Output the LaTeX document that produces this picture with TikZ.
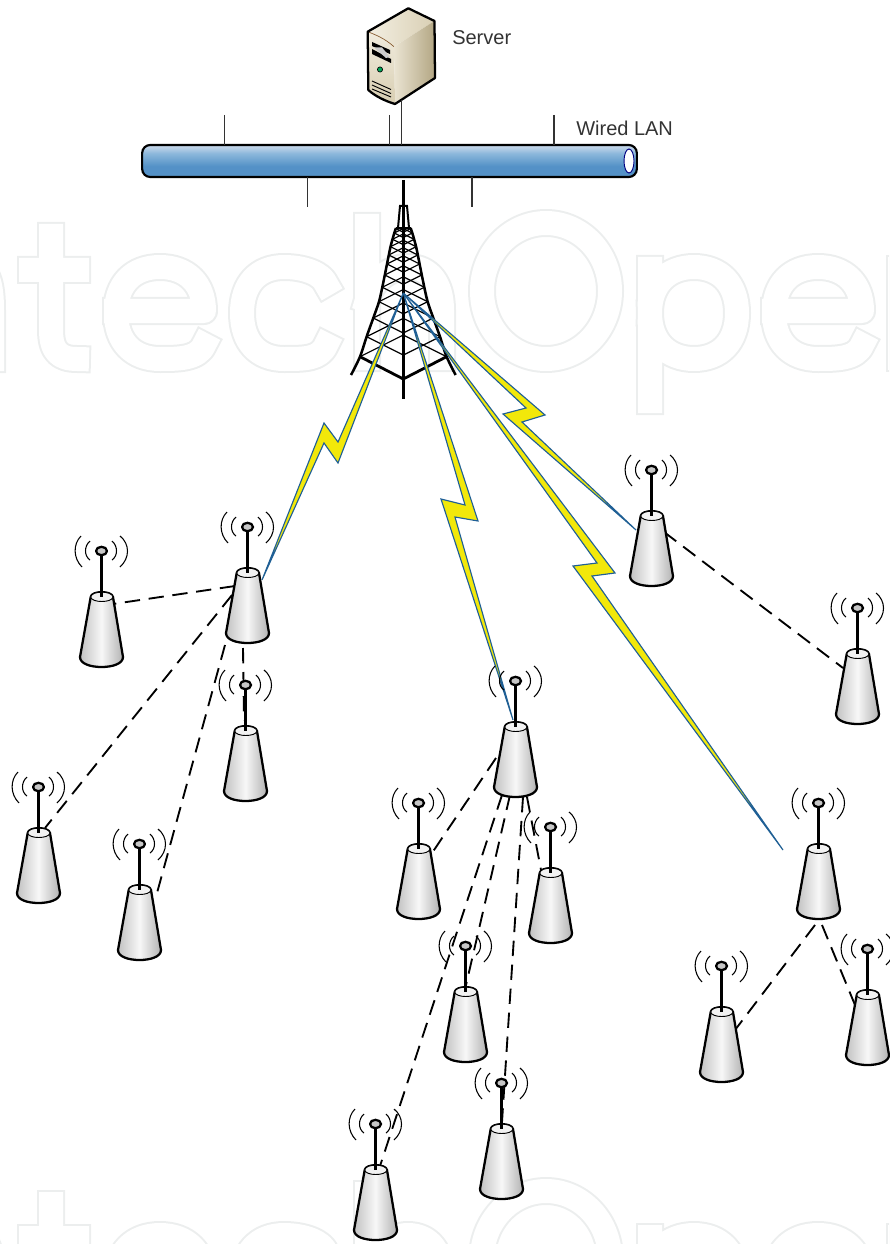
\documentclass[tikz,border=0pt]{standalone}
\usepackage{fontspec}
\setmainfont{Liberation Sans}
\usetikzlibrary{calc}
\definecolor{wm}{HTML}{ECEEEE}
\definecolor{boltblue}{HTML}{1F5F96}
\definecolor{boltyellow}{HTML}{F2E80A}
\definecolor{labelgray}{HTML}{333333}
\definecolor{ticks}{HTML}{333333}
\definecolor{srvtopl}{HTML}{F3EFE2}
\definecolor{srvtopr}{HTML}{D9CFB4}
\definecolor{srvsidel}{HTML}{EAE4D2}
\definecolor{srvsider}{HTML}{B3A683}
\definecolor{srvfrontt}{HTML}{F1ECDE}
\definecolor{srvfrontb}{HTML}{D8CEB2}
\pgfdeclareverticalshading{pipeshade}{100bp}{
  rgb(0bp)=(0.45,0.66,0.85);
  rgb(30bp)=(0.33,0.57,0.78);
  rgb(42bp)=(0.33,0.57,0.78);
  rgb(62bp)=(0.55,0.72,0.86);
  rgb(72bp)=(0.75,0.83,0.91);
  rgb(100bp)=(0.70,0.80,0.89)}
\tikzset{
  watermark/.style={draw=wm,line width=1.5pt,double=white,double distance=18pt,line cap=rect,line join=round},
  lanbar/.style={draw=black,line width=1.6pt,rounded corners=6pt,minimum width=371pt,minimum height=24pt,inner sep=0pt,outer sep=0pt,shading=pipeshade},
  tickline/.style={draw=ticks,line width=0.9pt},
  label/.style={text=labelgray,font=\fontsize{15}{18}\selectfont,inner sep=0pt},
  dashlink/.style={draw=black,line width=1.4pt,dash pattern=on 11.5pt off 6.5pt},
  bolt/.style={draw=boltblue,fill=boltyellow,line width=0.85pt,line join=miter},
  leg/.style={draw=black,line width=1.9pt,line cap=butt},
  lattice/.style={draw=black,line width=0.9pt},
  outline/.style={draw=black,line width=1.7pt,line join=round},
  pics/station/.style={code={
    \coordinate (-c) at (0,0);
    \draw[line width=0.8pt] (-11,-10) .. controls (-17,-5) and (-17,5) .. (-11,9);
    \draw[line width=0.8pt] (-20,-15) .. controls (-28,-7) and (-28,7) .. (-19,16);
    \draw[line width=0.8pt] (11,-10) .. controls (17,-5) and (17,5) .. (11,9);
    \draw[line width=0.8pt] (19,-15) .. controls (29,-7) and (29,7) .. (19,16);
    \draw[outline,left color=black!24,right color=black!30,middle color=black!3]
      (-10.3,46) -- (-21,106) .. controls (-21,113) and (-10,116) .. (0.5,116)
      .. controls (11,116) and (22,113) .. (22,106) -- (12,46)
      .. controls (11,39.5) and (-9.5,39.5) .. (-10.3,46) -- cycle;
    \draw[draw=black,line width=0.7pt,fill=black!5] (-10.3,46) .. controls (-9.5,52) and (11,52) .. (12,46) .. controls (11,39.5) and (-9.5,39.5) .. (-10.3,46) -- cycle;
    \draw[black,line width=1.7pt] (0.5,-2) -- (0.5,46);
    \draw[outline,fill=black!22] (0.5,0) ellipse [x radius=5.5,y radius=4.2];
  }}
}
\begin{document}
\begin{tikzpicture}[x=0.75pt,y=-0.75pt]
\useasboundingbox (0,0) rectangle (889,1244);
% watermark
\begin{scope}
\clip (0,0) rectangle (889,1244);
\foreach \s in {0,968}{
 \begin{scope}[shift={(0,\s)}]
  \draw[watermark] (-30,266) .. controls (-12,266) and (-8,284) .. (-8,310) -- (-8,359);
  \draw[watermark] (51,236) -- (51,330) .. controls (51,352) and (60,359) .. (77,359) (31,270) -- (77,270);
  \draw[watermark] (116,311) -- (204,311) .. controls (204,284) and (187,267) .. (160,267)
     .. controls (133,267) and (116,284) .. (116,313) .. controls (116,342) and (133,359) .. (160,359)
     .. controls (178,359) and (198,359) .. (204,345);
  \draw[watermark] (326,284) .. controls (322,274) and (305,267) .. (284,267)
     .. controls (258,267) and (242,284) .. (242,313) .. controls (242,342) and (258,359) .. (284,359)
     .. controls (305,359) and (320,359) .. (326,345);
  \draw[watermark] (367,226) -- (367,358) (367,300) .. controls (372,280) and (390,267) .. (408,267)
     .. controls (430,267) and (442,284) .. (442,310) -- (442,358);
  \draw[watermark] (546,291) ellipse [x radius=64,y radius=68];
  \draw[watermark] (650,269) -- (650,401) (650,313) .. controls (650,284) and (668,267) .. (694,267)
     .. controls (720,267) and (737,284) .. (737,313) .. controls (737,342) and (720,359) .. (694,359)
     .. controls (668,359) and (650,342) .. (650,313);
  \draw[watermark] (774,311) -- (862,311) .. controls (862,284) and (845,267) .. (818,267)
     .. controls (791,267) and (774,284) .. (774,313) .. controls (774,342) and (791,359) .. (818,359)
     .. controls (836,359) and (856,359) .. (862,345);
  \draw[watermark] (900,269) -- (900,358);
 \end{scope}
}
\end{scope}
% server
\coordinate (srvbase) at (401.4,100);
\shade[left color=srvtopl,right color=srvtopr] (367.7,31.7) -- (408.3,8.3) -- (434.5,21) -- (394,46.7) .. controls (384,38) and (376,35) .. (367.7,31.7) -- cycle;
\shade[left color=srvsidel,right color=srvsider] (394,46.7) -- (434.5,21) -- (435,78) -- (395,103) -- cycle;
\shade[top color=srvfrontt,bottom color=srvfrontb] (367.7,31.7) .. controls (376,35) and (384,38) .. (394,46.7) -- (395,103) .. controls (385,100) and (375,96) .. (369,90) -- cycle;
\draw[draw=brown!70!black,line width=0.5pt] (367.7,31.7) .. controls (376,35) and (384,38) .. (394,46.7);
\draw[outline] (408.3,8.3) -- (434.5,21) -- (435,78) -- (395,104) .. controls (385,101) and (375,96) .. (368.3,90) -- (367.7,31.7) -- cycle;
\fill[black] (372,42) -- (390,50) -- (390,54) -- (372,46) -- cycle;
\fill[black] (372,49) -- (391,59) -- (391,63) -- (372,54) -- cycle;
\fill[black!20] (374,47.5) -- (382,47.5) -- (390,57) -- (386,58) -- cycle;
\draw[draw=black,line width=0.5pt,fill=teal!70!green] (380,69.5) circle (2.6);
\draw[black,line width=0.7pt] (372,81) -- (391,89.5) (372,85) -- (391,93.5) (372,89) -- (391,97);
% LAN
\node[lanbar] (lan) at (389.5,161) {};
\draw[draw=blue!50!black,line width=0.7pt,fill=white] (629,161) ellipse [x radius=5,y radius=12];
\node[label,anchor=west] (server) at (452,38) {Server};
\node[label,anchor=west] (wired) at (576,128) {Wired LAN};
\coordinate (t1) at (224.6,115);
\coordinate (t2) at (389.6,115);
\coordinate (t3) at (554,115);
\coordinate (b1) at (307.5,207);
\coordinate (b2) at (472,207);
\draw[tickline] (t1) -- (t1 |- lan.north);
\draw[tickline] (t2) -- (t2 |- lan.north);
\draw[tickline] (srvbase) -- (srvbase |- lan.north);
\draw[tickline] (t3) -- (t3 |- lan.north);
\draw[tickline] (b1) -- (b1 |- lan.south);
\draw[tickline] (b2) -- (b2 |- lan.south);
% tower
\coordinate (masttop) at (403.3,180);
\coordinate (mastfoot) at (403.3,399);
\coordinate (radio) at (403.3,293);
\foreach \w/\y in {36.7/336.7,30/318,24.3/301.7,21/287.3,18.5/275,16.3/264,14.5/255,12.8/246.7,10.8/239.3,9/233,7.5/228.5}{
  \draw[lattice] ({403.3-\w},\y) -- (403.3,{\y+0.5*\w}) -- ({403.3+\w},\y);
}
\foreach \w/\y in {43.3/356.7,36.7/336.7,30/318,24.3/301.7,21/287.3,18.5/275,16.3/264,14.5/255,12.8/246.7,10.8/239.3,9/233}{
  \draw[lattice] ({403.3-\w},\y) -- (403.3,{max(\y-0.5*\w,228)}) -- ({403.3+\w},\y);
}
\draw[leg] plot[smooth,tension=0.5] coordinates {(351,375) (360,356.7) (366.6,336.7) (373.3,318) (379,301.7) (382.3,287.3) (384.8,275) (387,264) (388.8,255) (390.5,246.7) (392.5,239.3) (394.3,233) (396,228)};
\draw[leg] plot[smooth,tension=0.5] coordinates {(455.6,375) (446.6,356.7) (440,336.7) (433.3,318) (427.6,301.7) (424.3,287.3) (421.8,275) (419.6,264) (417.8,255) (416.1,246.7) (414.1,239.3) (412.3,233) (410.6,228)};
\draw[leg] (396,228) -- (410.6,228);
\draw[draw=black,line width=1.5pt] (398,228) -- (400,206) -- (407,206) -- (409,228);
\draw[draw=black,line width=2.1pt] (360,356.7) -- (403.3,379) -- (446.6,356.7);
\draw[draw=black,line width=2pt] (masttop) -- (mastfoot);
% coordinates of the stations
\coordinate (pa) at (247,527);
\coordinate (pb) at (101,551);
\coordinate (pc) at (245,685);
\coordinate (pd) at (38,787);
\coordinate (pe) at (139,844);
\coordinate (pf) at (515,681);
\coordinate (pg) at (418,803);
\coordinate (ph) at (550,827);
\coordinate (pi) at (465,946);
\coordinate (pj) at (501,1083);
\coordinate (pk) at (375,1124);
\coordinate (pl) at (651,470);
\coordinate (pm) at (857,608);
\coordinate (pn) at (818,803);
\coordinate (po) at (721,966);
\coordinate (pp) at (867,949);
\coordinate (tipn) at (783,850);
% dashed links
\draw[dashlink] ($(pa)+(-12,59)$) -- ($(pb)+(12,53)$);
\draw[dashlink] ($(pa)+(-15,68)$) -- ($(pd)+(7,41)$);
\draw[dashlink] ($(pa)+(-22,118)$) -- ($(pe)+(18,49)$);
\draw[dashlink] ($(pa)+(-4,121)$) -- ($(pc)+(-1,35)$);
\draw[dashlink] ($(pf)+(-19,77)$) -- ($(pg)+(14,50)$);
\draw[dashlink] ($(pf)+(12,116)$) -- ($(ph)+(-9,43)$);
\draw[dashlink] ($(pf)+(-5,114)$) -- ($(pi)+(1,39)$);
\draw[dashlink] ($(pf)+(8,116)$) -- ($(pj)+(1,39)$);
\draw[dashlink] ($(pf)+(-13,114)$) -- ($(pk)+(5,42)$);
\draw[dashlink] ($(pl)+(13,62)$) -- ($(pm)+(-14,60)$);
\draw[dashlink] ($(pn)+(-3,122)$) -- ($(po)+(14,64)$);
\draw[dashlink] ($(pn)+(4,122)$) -- ($(pp)+(-12,56)$);
% lightning bolts
\draw[bolt] (radio) -- (338,442) -- (324,423) -- ($(pa)+(15,53)$) -- (324,443) -- (338,463) -- cycle;
\draw[bolt] (radio) -- (465,505) -- (441,499) -- ($(pf)+(-2,39)$) -- (455,517) -- (478,521) -- cycle;
\draw[bolt] (radio) -- (597,563) -- (573,566) -- (tipn) -- (592,576) -- (615,573) -- cycle;
\draw[bolt] (radio) -- (526,408) -- (503,414) -- ($(pl)+(-15,60)$) -- (522,422) -- (545,415) -- cycle;
% stations
\pic (sa) at (pa) {station};
\pic (sb) at (pb) {station};
\pic (sc) at (pc) {station};
\pic (sd) at (pd) {station};
\pic (se) at (pe) {station};
\pic (sf) at (pf) {station};
\pic (sg) at (pg) {station};
\pic (sh) at (ph) {station};
\pic (si) at (pi) {station};
\pic (sj) at (pj) {station};
\pic (sk) at (pk) {station};
\pic (sl) at (pl) {station};
\pic (sm) at (pm) {station};
\pic (sn) at (pn) {station};
\pic (so) at (po) {station};
\pic (sp) at (pp) {station};
\end{tikzpicture}
\end{document}
